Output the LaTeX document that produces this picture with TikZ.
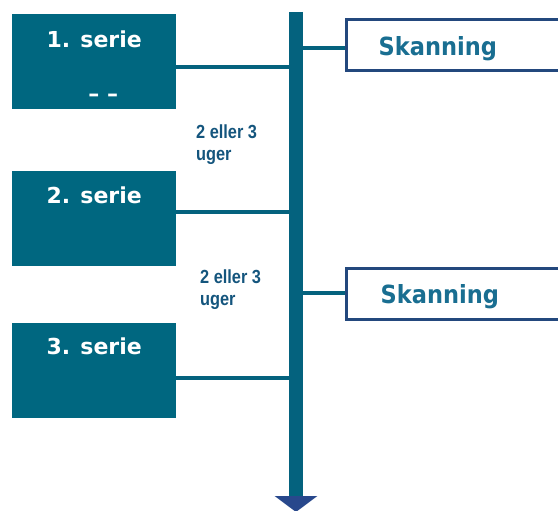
\documentclass[tikz,border=0pt]{standalone}
\usepackage{fontspec}
\setmainfont{Liberation Sans}
\newfontfamily\boxfont{DejaVu Sans}
\usetikzlibrary{positioning,arrows.meta}

\definecolor{seriecol}{RGB}{0,103,128}
\definecolor{barcol}{RGB}{4,98,126}
\definecolor{scanedge}{RGB}{35,72,125}
\definecolor{scantext}{RGB}{25,110,145}
\definecolor{gapcol}{RGB}{20,85,125}
\definecolor{arrowcol}{RGB}{40,72,140}

\tikzset{>=latex,
  seriebox/.style={fill=seriecol, minimum width=164pt, minimum height=95pt,
    anchor=north west, inner sep=0pt},
  serielabel/.style={text=white, inner sep=0pt,
    font=\boxfont\bfseries\fontsize{22}{24}\selectfont},
  scanbox/.style={draw=scanedge, line width=3pt, fill=white, minimum width=240pt,
    minimum height=51pt, anchor=north west, inner sep=0pt},
  scanlabel/.style={text=scantext, inner sep=0pt, xscale=0.9,
    font=\boxfont\bfseries\fontsize{25}{27}\selectfont},
  gaplabel/.style={text=gapcol, inner sep=0pt, align=left, anchor=north west,
    xscale=0.86, font=\bfseries\fontsize{19}{22}\selectfont},
  link/.style={draw=barcol, line width=4pt}
}

\begin{document}
\begin{tikzpicture}[x=1pt, y=-1pt]
    \useasboundingbox (0,0) rectangle (558,511);
    \clip (0,0) rectangle (558,511);

    % time axis
    \coordinate (top) at (296,12);
    \coordinate (bot) at (296,512);
    \draw[barcol, line width=14pt,
          -{Triangle[width=42pt, length=16pt, fill=arrowcol, color=arrowcol]}] (top) -- (bot);

    % series
    \node[seriebox] (s1) at (12,14) {};
    \node[seriebox] (s2) at (12,171) {};
    \node[seriebox] (s3) at (12,323) {};

    \node[serielabel, below=17pt of s1.north] (l1) {1. serie};
    \node[serielabel, below=16pt of s2.north] (l2) {2. serie};
    \node[serielabel, below=15pt of s3.north] (l3) {3. serie};
    \node[serielabel] (d1) at ([shift={(9,-12)}]s1.south) {– –};

    \coordinate (j1) at (296,67);
    \coordinate (j2) at (296,212);
    \coordinate (j3) at (296,378);
    \draw[link] (s1.east |- j1) -- (j1);
    \draw[link] (s2.east |- j2) -- (j2);
    \draw[link] (s3.east |- j3) -- (j3);

    % scans
    \node[scanbox] (k1) at (344.5,18.5) {};
    \node[scanbox] (k2) at (344.5,266.5) {};
    \node[scanlabel, right=34pt of k1.west, yshift=-3pt] (t1) {Skanning};
    \node[scanlabel, right=36pt of k2.west, yshift=-3pt] (t2) {Skanning};

    \coordinate (j4) at (296,48);
    \coordinate (j5) at (296,293);
    \draw[link] (j4) -- (k1.west |- j4);
    \draw[link] (j5) -- (k2.west |- j5);

    % intervals
    \node[gaplabel] (g1) at (196,125) {2 eller 3\\uger};
    \node[gaplabel] (g2) at (200,270) {2 eller 3\\uger};

\end{tikzpicture}
\end{document}
